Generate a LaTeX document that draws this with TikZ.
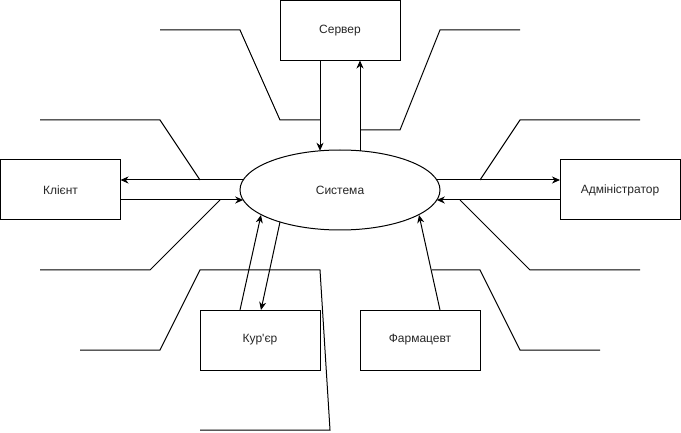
\documentclass[tikz,border=0pt]{standalone}
\usepackage{fontspec}
\newfontfamily\arialf{Liberation Sans}
\usetikzlibrary{shapes.geometric,arrows.meta}
\begin{document}
\begin{tikzpicture}[x=1pt,y=-1pt, line width=1pt,
  lbl/.style={font=\arialf\fontsize{12}{14}\selectfont, text=black!85},
  box/.style={draw, lbl, minimum width=120pt, minimum height=60pt, inner sep=0pt},
  conn/.style={-{Stealth[length=8pt,width=7pt,inset=2.5pt]}},
  lead/.style={line join=miter}]
\useasboundingbox (0,0) rectangle (681,433);
\node[box] (srv) at (340,30.5) {Сервер};
\node[box] (cli) at (60.5,190) {Клієнт};
\node[box] (adm) at (620,190) {Адміністратор};
\node[box] (cur) at (260,340) {Кур\symbol{"27}єр};
\node[box] (phr) at (420,340) {Фармацевт};
\node[draw, ellipse, lbl, minimum width=200pt, minimum height=80pt, inner sep=0pt] (sys) at (340,190) {Система};
% points on the ellipse
\coordinate (e1) at (320,150.8);
\coordinate (e2) at (360,150.8);
\coordinate (e3) at (243.2,180);
\coordinate (e4) at (243.2,200);
\coordinate (e5) at (436.8,180);
\coordinate (e6) at (436.8,200);
\coordinate (e7) at (261,215);
\coordinate (e8) at (280,222);
\coordinate (e9) at (419,215);
% points on the boxes
\coordinate (b1) at (320,60.5);
\coordinate (b2) at (360,60.5);
\coordinate (b3) at (120.5,180);
\coordinate (b4) at (120.5,200);
\coordinate (b5) at (560,180);
\coordinate (b6) at (560,200);
\coordinate (b7) at (240,310);
\coordinate (b8) at (261,310);
\coordinate (b9) at (440,310);
% connectors
\draw[conn] (b1) -- (e1);
\draw[conn] (e2) -- (b2);
\draw[conn] (e3) -- (b3);
\draw[conn] (b4) -- (e4);
\draw[conn] (e5) -- (b5);
\draw[conn] (b6) -- (e6);
\draw[conn] (b7) -- (e7);
\draw[conn] (e8) -- (b8);
\draw[conn] (b9) -- (e9);
% leader lines
\draw[lead] (160,30) -- (240,30) -- (280,120) -- (320,120);
\draw[lead] (360,130) -- (400,130) -- (440,30) -- (520,30);
\draw[lead] (40,120) -- (160,120) -- (200,180);
\draw[lead] (220,200) -- (150,270) -- (40,270);
\draw[lead] (80,350) -- (160,350) -- (200,270) -- (320,270) -- (330,430) -- (200,430);
\draw[lead] (480,180) -- (520,120) -- (640,120);
\draw[lead] (460,200) -- (530,270) -- (640,270);
\draw[lead] (432,270) -- (480,270) -- (520,350) -- (600,350);
\end{tikzpicture}
\end{document}
